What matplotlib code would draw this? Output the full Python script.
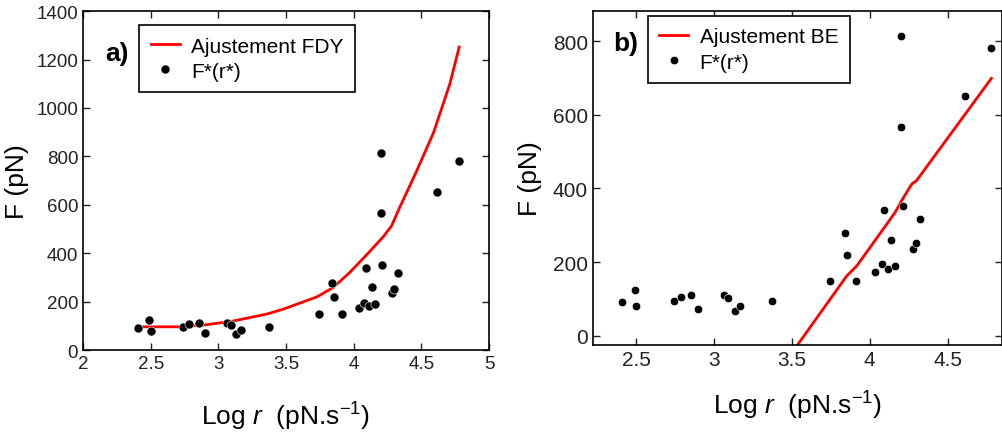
import numpy as np
import matplotlib
matplotlib.use('Agg')
import matplotlib.pyplot as plt

plt.rcParams['font.family'] = ['Liberation Sans', 'DejaVu Sans']
plt.rcParams['mathtext.fontset'] = 'custom'
plt.rcParams['mathtext.rm'] = 'Liberation Sans'
plt.rcParams['mathtext.it'] = 'Liberation Sans:italic'

########## DATA ##############################################################
log_r = [2.408, 2.49, 2.50, 2.741, 2.786, 2.854, 2.899, 3.061, 3.091, 3.134,
         3.166, 3.373, 3.744, 3.838, 3.857, 3.911, 4.037, 4.077, 4.094, 4.116,
         4.137, 4.161, 4.199, 4.203, 4.212, 4.28, 4.30, 4.325, 4.613, 4.782]
F_star = [92, 124, 80, 94, 106, 111, 72, 111, 102, 66,
          81, 94, 150, 278, 220, 150, 172, 194, 341, 180,
          260, 190, 568, 814, 352, 235, 253, 318, 651, 780]

# FDY fit (panel a)
fdy_x = [2.43, 2.71, 2.89, 3.11, 3.36, 3.48, 3.73, 3.85, 3.97, 4.10,
         4.22, 4.28, 4.34, 4.46, 4.59, 4.71, 4.78]
fdy_y = [96, 96, 103, 120, 149, 169, 220, 259, 320, 396,
         469, 513, 589, 733, 898, 1098, 1252]

# BE fit (panel b)
be_x = [3.537, 3.853, 3.917, 4.163, 4.205, 4.27, 4.30, 4.782]
be_y = [-24, 163, 190, 335, 367, 412, 421, 699]

########## FIGURE ############################################################
fig = plt.figure(figsize=(10.03, 4.35), dpi=100)
axa = fig.add_axes([0.0828, 0.193, 0.4047, 0.779])
axb = fig.add_axes([0.591, 0.2046, 0.408, 0.768])

for ax, fs in ((axa, 13.5), (axb, 15)):
    ax.tick_params(direction='in', top=True, right=True, labelsize=fs,
                   length=5, width=1, colors='#222222')
    for s in ax.spines.values():
        s.set_linewidth(1.2)

legkw = dict(loc='upper left', fontsize=15, fancybox=False, framealpha=1,
             edgecolor='black', handlelength=1.4, handletextpad=0.55,
             borderpad=0.55, labelspacing=0.3, borderaxespad=0)

# panel a
axa.plot(fdy_x, fdy_y, color='red', lw=2, label='Ajustement FDY')
axa.plot(log_r, F_star, 'o', color='black', ms=6.5, mec='white', mew=0.4,
         label='F*(r*)')
axa.set_xlim(2, 5)
axa.set_ylim(0, 1400)
axa.set_xticks([2, 2.5, 3, 3.5, 4, 4.5, 5])
axa.set_xticklabels(['2', '2.5', '3', '3.5', '4', '4.5', '5'])
axa.set_yticks(np.arange(0, 1401, 200))
axa.set_xlabel('Log $r$  (pN.s$^{-1}$)', fontsize=19, labelpad=20)
axa.set_ylabel('F (pN)', fontsize=19, labelpad=5)
axa.text(0.054, 0.855, 'a)', transform=axa.transAxes, fontsize=19,
         fontweight='bold', va='baseline')
lga = axa.legend(bbox_to_anchor=(0.138, 0.959), **legkw)
lga.get_frame().set_linewidth(1.2)

# panel b
axb.plot(be_x, be_y, color='red', lw=2, label='Ajustement BE')
axb.plot(log_r, F_star, 'o', color='black', ms=6, mec='white', mew=0.4,
         label='F*(r*)')
axb.set_xlim(2.22, 4.85)
axb.set_ylim(-25, 882)
axb.set_xticks([2.5, 3, 3.5, 4, 4.5])
axb.set_xticklabels(['2.5', '3', '3.5', '4', '4.5'])
axb.set_yticks([0, 200, 400, 600, 800])
axb.set_xlabel('Log $r$  (pN.s$^{-1}$)', fontsize=19, labelpad=14)
axb.set_ylabel('F (pN)', fontsize=19, labelpad=8)
axb.text(0.049, 0.883, 'b)', transform=axb.transAxes, fontsize=19,
         fontweight='bold', va='baseline')
lgb = axb.legend(bbox_to_anchor=(0.134, 0.985), **legkw)
lgb.get_frame().set_linewidth(1.2)

plt.savefig('out.png', dpi=100)
